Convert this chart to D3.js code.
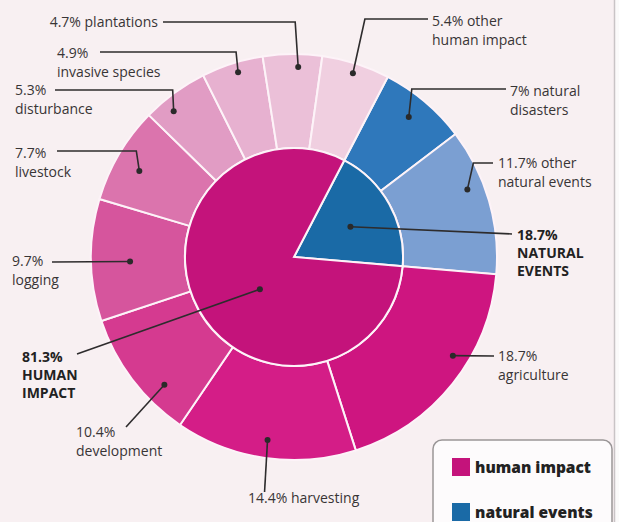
<!DOCTYPE html>
<html>
<head>
<meta charset="utf-8">
<script src="https://cdn.jsdelivr.net/npm/d3@7"></script>
<style>
  html, body { margin: 0; padding: 0; background: #f8f0f2; }
  svg { display: block; }
</style>
</head>
<body>
<div id="chart"></div>
<script>
// Inner ring
const innerCategories = ['natural events', 'human impact'];
const innerValues = [18.7, 81.3];

// Outer ring (clockwise, starting after the natural/human split at the top)
const outerCategories = ['natural disasters', 'other natural events', 'agriculture', 'harvesting',
    'development', 'logging', 'livestock', 'disturbance', 'invasive species', 'plantations',
    'other human impact'];
const outerParents = ['natural events', 'natural events', 'human impact', 'human impact',
    'human impact', 'human impact', 'human impact', 'human impact', 'human impact',
    'human impact', 'human impact'];
const outerValues = [7, 11.7, 18.7, 14.4, 10.4, 9.7, 7.7, 5.3, 4.9, 4.7, 5.4];

const legendLabels = ['human impact', 'natural events'];

const width = 619, height = 522;
const cx = 294, cy = 257;
const rInner = 109, rOuter = 203;
const startAngle = 27.5 * Math.PI / 180;

const innerColors = {'human impact': '#c4137b', 'natural events': '#1a6aa6'};
const outerColors = ['#2f78bb', '#7b9fd2', '#ce1580', '#d41d87', '#d53a90', '#d6559d',
    '#db74ad', '#e19cc4', '#e7b1d0', '#ebc0d8', '#f0cfe0'];

const svg = d3.select('#chart')
    .append('svg')
    .attr('width', width)
    .attr('height', height);

// right page edge
svg.append('rect').attr('x', 615).attr('y', 0).attr('width', 4).attr('height', height).attr('fill', '#fbfafa');
svg.append('line').attr('x1', 614.5).attr('x2', 614.5).attr('y1', 0).attr('y2', height)
    .attr('stroke', '#c9c4c6').attr('stroke-width', 1.5);

const g = svg.append('g').attr('transform', `translate(${cx},${cy})`);

const pie = d3.pie().sort(null).value(d => d.value)
    .startAngle(startAngle).endAngle(startAngle + 2 * Math.PI);

const innerArcs = pie(innerCategories.map((c, i) => ({name: c, value: innerValues[i]})));
const outerArcs = pie(outerCategories.map((c, i) => ({name: c, parent: outerParents[i], value: outerValues[i]})));

const innerArc = d3.arc().innerRadius(0).outerRadius(rInner);
const outerArc = d3.arc().innerRadius(rInner).outerRadius(rOuter);

g.selectAll('.outer')
    .data(outerArcs)
    .enter()
    .append('path')
    .attr('class', 'outer')
    .attr('d', outerArc)
    .attr('fill', (d, i) => outerColors[i])
    .attr('stroke', '#fdf3f8')
    .attr('stroke-width', 2);

g.selectAll('.inner')
    .data(innerArcs)
    .enter()
    .append('path')
    .attr('class', 'inner')
    .attr('d', innerArc)
    .attr('fill', d => innerColors[d.data.name])
    .attr('stroke', '#fdf3f8')
    .attr('stroke-width', 2);

// point inside a slice: t = fraction across the slice, r = radius
function slicePoint(arc, t, r) {
    const a = arc.startAngle + t * (arc.endAngle - arc.startAngle);
    return [cx + r * Math.sin(a), cy - r * Math.cos(a)];
}

const outerByName = {};
outerArcs.forEach(d => outerByName[d.data.name] = d);
const innerByName = {};
innerArcs.forEach(d => innerByName[d.data.name] = d);
const valueOf = name => {
    const i = outerCategories.indexOf(name);
    return i >= 0 ? outerValues[i] : innerValues[innerCategories.indexOf(name)];
};

// label layout: where the dot sits, the leader path, and the text block
const labels = [
    {name: 'plantations', t: 0.6, r: 190, via: [[-3, 22], [163, 22]], x: 158, y: 27, anchor: 'end', oneLine: true},
    {name: 'invasive species', t: 0.55, r: 193, via: [[-2, 52], [100, 52]], x: 57, y: 58},
    {name: 'disturbance', t: 0.32, r: 189, via: [[-1, 90], [55, 90]], x: 15, y: 95},
    {name: 'livestock', t: 0.45, r: 177, via: [[-3, 151], [57, 151]], x: 15, y: 158},
    {name: 'logging', t: 0.48, r: 164, via: [[52, 262]], x: 12, y: 266},
    {name: 'development', t: 0.3, r: 182, via: [[126, 427]], x: 76, y: 437},
    {name: 'harvesting', t: 0.5, r: 185, via: [[-3, 492]], x: 248, y: 503, oneLine: true},
    {name: 'agriculture', t: 0.4, r: 187, via: [[494, 356]], x: 498, y: 361},
    {name: 'other natural events', t: 0.38, r: 186, via: [[6, 163], [493, 163]], x: 498, y: 168, split: ['other', 'natural events']},
    {name: 'natural disasters', t: 0.47, r: 181, via: [[3, 89], [506, 89]], x: 510, y: 96, split: ['natural', 'disasters']},
    {name: 'other human impact', t: 0.5, r: 193, via: [[12, 19], [428, 19]], x: 432, y: 26, split: ['other', 'human impact']},
    {name: 'human impact', inner: true, t: 0.45, r: 47, via: [[77, 354]], x: 22, y: 362, bold: true},
    {name: 'natural events', inner: true, t: 0.51, r: 64, via: [[512, 234]], x: 517, y: 240, bold: true}
];

const fmt = v => d3.format('~r')(v) + '%';
const lineH = 19;

labels.forEach(l => {
    const arc = l.inner ? innerByName[l.name] : outerByName[l.name];
    const dot = slicePoint(arc, l.t, l.r);
    // elbow points give x relative to the dot; the last point is absolute
    const pts = [dot];
    l.via.forEach((p, i) => {
        const isElbow = l.via.length === 2 && i === 0 || (l.via.length === 1 && Math.abs(p[0]) < 20);
        pts.push(isElbow ? [dot[0] + p[0], p[1]] : p);
    });
    svg.append('path')
        .attr('d', d3.line()(pts))
        .attr('fill', 'none')
        .attr('stroke', '#2e2c2d')
        .attr('stroke-width', 1.6);
    svg.append('circle')
        .attr('cx', dot[0]).attr('cy', dot[1]).attr('r', 3)
        .attr('fill', '#2a2a2a');

    let lines;
    if (l.bold) {
        lines = [fmt(valueOf(l.name))].concat(l.name.toUpperCase().split(' '));
    } else if (l.oneLine) {
        lines = [fmt(valueOf(l.name)) + ' ' + l.name];
    } else if (l.split) {
        lines = [fmt(valueOf(l.name)) + ' ' + l.split[0], l.split[1]];
    } else {
        lines = [fmt(valueOf(l.name)), l.name];
    }
    const text = svg.append('text')
        .attr('x', l.x)
        .attr('y', l.y)
        .attr('text-anchor', l.anchor || 'start')
        .attr('font-family', '"Open Sans", sans-serif')
        .attr('font-size', '14px')
        .attr('font-weight', l.bold ? 700 : 500)
        .attr('fill', l.bold ? '#222' : '#383536');
    lines.forEach((s, i) => {
        text.append('tspan').attr('x', l.x).attr('y', l.y + i * (l.bold ? 18 : lineH)).text(s);
    });
});

// Legend
const legend = svg.append('g');
legend.append('rect')
    .attr('x', 433).attr('y', 440).attr('width', 179).attr('height', 100)
    .attr('rx', 9)
    .attr('fill', '#fdfbfc')
    .attr('stroke', '#9a9697')
    .attr('stroke-width', 1.5);

legend.selectAll('.swatch')
    .data(legendLabels)
    .enter()
    .append('rect')
    .attr('x', 452)
    .attr('y', (d, i) => 458 + i * 45)
    .attr('width', 18)
    .attr('height', 18)
    .attr('fill', d => innerColors[d]);

legend.selectAll('.ltext')
    .data(legendLabels)
    .enter()
    .append('text')
    .attr('x', 475)
    .attr('y', (d, i) => 473 + i * 45)
    .attr('font-family', '"Open Sans", sans-serif')
    .attr('font-size', '15.5px')
    .attr('font-weight', 800)
    .attr('fill', '#222')
    .text(d => d);
</script>
</body>
</html>
